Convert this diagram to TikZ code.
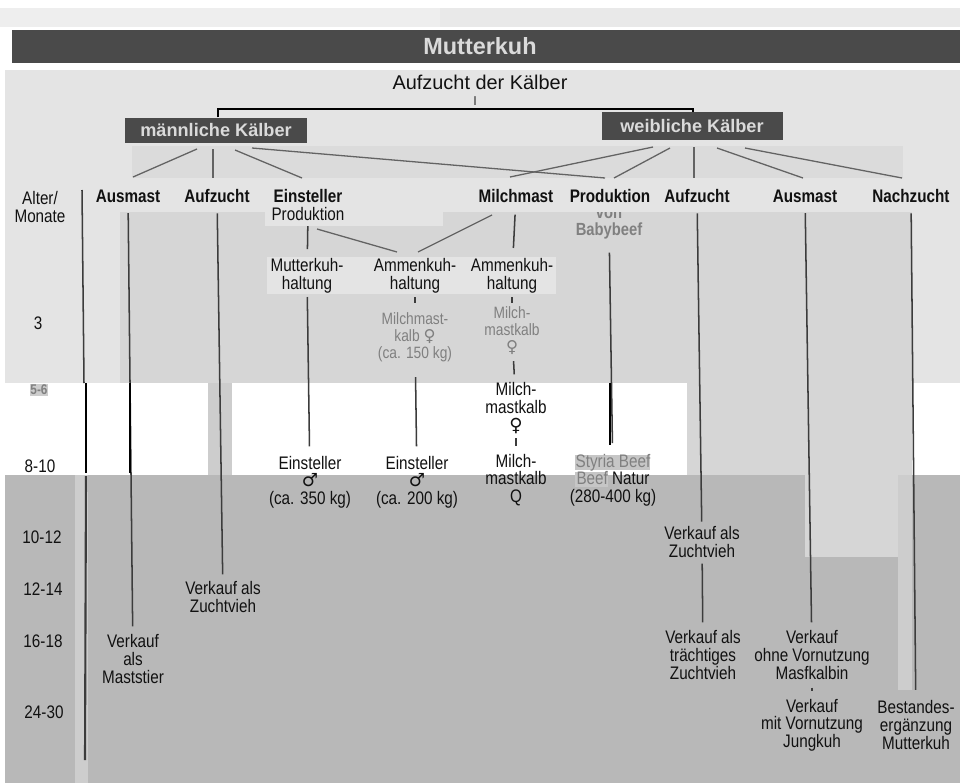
\documentclass[tikz,border=0pt]{standalone}
\usepackage{fontspec}
\setmainfont{Liberation Sans}[FakeStretch=0.84]
\newfontfamily\widefont{Liberation Sans}
\newfontfamily\symfont{DejaVu Sans}
\usepackage{tikz}
\usetikzlibrary{positioning}

\definecolor{ink}{HTML}{111111}
\definecolor{bar}{HTML}{4A4A4A}
\definecolor{boxtxt}{HTML}{DADADA}
\definecolor{paleg}{HTML}{E4E4E4}
\definecolor{colg}{HTML}{D6D6D6}
\definecolor{bandg}{HTML}{DBDBDB}
\definecolor{lowg}{HTML}{B8B8B8}
\definecolor{stripg}{HTML}{CDCDCD}
\definecolor{fade}{HTML}{808080}
\definecolor{lineg}{HTML}{3C3C3C}
\definecolor{topg}{HTML}{EEEEEE}

\newcommand{\male}{{\symfont ♂}}
\newcommand{\female}{{\symfont ♀}}

\tikzset{
	colline/.style={draw=lineg,line width=1.3pt},
	blackseg/.style={draw=black,line width=2.2pt},
	fan/.style={draw=lineg!80,line width=1.1pt},
	kbox/.style={fill=bar,text=boxtxt,font=\widefont\bfseries\fontsize{15.5}{15.5}\selectfont,inner sep=0pt}
}

\begin{document}
\begin{tikzpicture}[x=0.03cm,y=-0.03cm]
			\useasboundingbox (0,0) rectangle (960,783);
			% Flaechen
			\fill[white] (0,0) rectangle (960,783);
			\fill[topg] (0,8) rectangle (960,27);
			\fill[paleg!80] (440,8) rectangle (960,27);
			\fill[bar] (12,30) rectangle (960,63);
			\fill[paleg] (5,70) rectangle (960,383);
			\fill[bandg] (132,146) rectangle (903,178);
			\fill[colg] (120,212) rectangle (912,383);
			\fill[paleg] (267,257) rectangle (556,294);
			\fill[white] (5,383) rectangle (687,475);
			\fill[stripg] (208,383) rectangle (232,475);
			\fill[colg] (687,383) rectangle (912,475);
			\fill[white] (912,383) rectangle (960,475);
			\fill[lowg] (5,475) rectangle (960,783);
			\fill[colg] (805,475) rectangle (900,557);
			\fill[stripg] (898,475) rectangle (912,690);
			\fill[stripg] (75,475) rectangle (88,783);
			\fill[lowg!80] (575,455) rectangle (650,470);
			\fill[lowg!80] (575,472) rectangle (608,487);
			
			\node[text=fade,font=\bfseries\fontsize{15}{14.5}\selectfont,align=center] (vB) at (609,224) {von\\Babybeef};
			\fill[paleg] (560,185) rectangle (660,212);
			\fill[paleg] (265,212) rectangle (443,226);
			
			\node[text=boxtxt,font=\widefont\bfseries\fontsize{20}{20}\selectfont] (mk) at (480,46) {Mutterkuh};
			\node[text=ink,font=\widefont\fontsize{17}{17}\selectfont] (adk) at (480,82) {Aufzucht der Kälber};
			\node[text=ink,font=\rmfamily\fontsize{11}{11}\selectfont,inner sep=0pt] (conn) at (475,101) {I};
			\node[kbox,minimum width=5.46cm,minimum height=0.75cm] (mK) at (216,130) {männliche Kälber};
			\node[kbox,minimum width=5.43cm,minimum height=0.84cm] (wK) at (692,126) {weibliche Kälber};
			
			\begin{scope}[every node/.style={text=ink,inner sep=1pt,align=center,font=\fontsize{15.5}{15}\selectfont}]
				\node (alter) at (40,207) {Alter/\\Monate};
				\node (a3) at (38,323) {3};
				\node[fill=stripg,text=fade,font=\bfseries\fontsize{12}{12}\selectfont,inner sep=0.5pt] (a56) at (39,390) {5-6};
				\node (a810) at (40,466) {8-10};
				\node (a1012) at (42,537) {10-12};
				\node (a1214) at (43,589) {12-14};
				\node (a1618) at (43,641) {16-18};
				\node (a2430) at (44,712) {24-30};
			\end{scope}
			
			\begin{scope}[every node/.style={text=ink,inner sep=1pt,font=\bfseries\fontsize{15.5}{15}\selectfont}]
				\node (hAm) at (128,196) {Ausmast};
				\node (hAz) at (217,196) {Aufzucht};
				\node (hEin) at (308,196) {Einsteller};
				\node (hMi) at (516,196) {Milchmast};
				\node (hPr) at (610,196) {Produktion};
				\node (hAz2) at (697,196) {Aufzucht};
				\node (hAm2) at (805,196) {Ausmast};
				\node (hNa) at (911,196) {Nachzucht};
			\end{scope}
			
			\begin{scope}[every node/.style={text=ink,inner sep=1pt,align=center,font=\fontsize{15.5}{15}\selectfont}]
				\node[below=2pt of hEin] (prod) {Produktion};
				\node (mh) at (307,276) {Mutterkuh-\\haltung};
				\node (ah1) at (415,276) {Ammenkuh-\\haltung};
				\node (ah2) at (512,276) {Ammenkuh-\\haltung};
				\node[text=fade,font=\fontsize{14}{14.5}\selectfont] (mk1) at (415,337) {Milchmast-\\kalb \female\\(ca. 150 kg)};
				\node[text=fade,font=\fontsize{14}{14.5}\selectfont] (mk2) at (512,331) {Milch-\\mastkalb\\\female};
				\node (mk3) at (516,408) {Milch-\\mastkalb\\\female};
				\node (mk4) at (516,480) {Milch-\\mastkalb\\Q};
				\node (ein1) at (310,482) {Einsteller\\\male\\(ca. 350 kg)};
				\node (ein2) at (417,482) {Einsteller\\\male\\(ca. 200 kg)};
				\node (sty) at (613,480) {{\color{fade}Styria Beef}\\{\color{fade}Beef} Natur\\(280-400 kg)};
				\node (vZ1) at (223,597) {Verkauf als\\Zuchtvieh};
				\node (vM) at (133,659) {Verkauf\\als\\Maststier};
				\node (vZ2) at (702,542) {Verkauf als\\Zuchtvieh};
				\node (vT) at (703,655) {Verkauf als\\trächtiges\\Zuchtvieh};
				\node (vO) at (812,655) {Verkauf\\ohne Vornutzung\\Masfkalbin};
				\node (vJ) at (812,725) {Verkauf\\mit Vornutzung\\Jungkuh};
				\node (bE) at (916,725) {Bestandes-\\ergänzung\\Mutterkuh};
			\end{scope}
			
			% Klammer unter dem Titel
			\coordinate (bl) at (218,109);
			\coordinate (br) at (693,109);
			\draw[black,line width=1.1pt] (mK.north -| bl) -- (bl) -- (br) -- (wK.north -| br);
			
			% Faecher von den Kaelbern
			\coordinate (m1) at (197,149); \coordinate (t1) at (133,177);
			\coordinate (m2) at (213,149); \coordinate (t2) at (213,178);
			\coordinate (m3) at (235,150); \coordinate (t3) at (302,178);
			\coordinate (m4) at (252,148); \coordinate (t4) at (605,178);
			\coordinate (w1) at (653,147); \coordinate (t5) at (510,177);
			\coordinate (w2) at (670,148); \coordinate (t6) at (614,178);
			\coordinate (w3) at (694,147); \coordinate (t7) at (694,178);
			\coordinate (w4) at (717,148); \coordinate (t8) at (803,178);
			\coordinate (w5) at (745,148); \coordinate (t9) at (902,178);
			\foreach \a/\b in {m1/t1,m2/t2,m3/t3,m4/t4,w1/t5,w2/t6,w3/t7,w4/t8,w5/t9}
				\draw[fan] (\a) -- (\b);
			
			% Einsteller -> Haltung
			\coordinate (p1) at (317,229); \coordinate (p2) at (397,252);
			\coordinate (p3) at (418,252); \coordinate (p4) at (492,215);
			\draw[fan] (p1) -- (p2);
			\draw[fan] (p3) -- (p4);
			
			% Saeulen
			\begin{scope}[every edge/.style={colline}]
				\path (hAm) edge[shorten <=8pt,shorten >=6pt] (vM);
				\path (hAz) edge[shorten <=8pt,shorten >=5pt] (vZ1);
				\path (prod) edge[shorten <=3pt,shorten >=7pt] (mh);
				\path (mh) edge[shorten <=2pt,shorten >=7pt] (ein1);
				\path (ah1) edge[shorten <=2pt,shorten >=7pt] (mk1);
				\path (mk1) edge[shorten <=12pt,shorten >=7pt] (ein2);
				\path (hMi) edge[shorten <=9pt,shorten >=8pt] (ah2);
				\path (ah2) edge[shorten <=2pt,shorten >=2pt] (mk2);
				\path (mk2) edge[shorten <=4pt,shorten >=6pt] (mk3);
				\path (mk3) edge[shorten <=3pt,shorten >=6pt] (mk4);
				\path (vB) edge[shorten <=8pt,shorten >=8pt] (sty);
				\path (hAz2) edge[shorten <=8pt,shorten >=3pt] (vZ2);
				\path (vZ2) edge[shorten <=4pt,shorten >=6pt] (vT);
				\path (hAm2) edge[shorten <=8pt,shorten >=6pt] (vO);
				\path (vO) edge[shorten <=6pt,shorten >=6pt] (vJ);
				\path (hNa) edge[shorten <=8pt,shorten >=8pt] (bE);
			\end{scope}
			
			% Zeitachse
			\coordinate (ax0) at (82,190);
			\coordinate (ax1) at (84,383);
			\coordinate (ax2) at (86,473);
			\coordinate (ax3) at (85,760);
			\draw[colline] (ax0) -- (ax1);
			\draw[blackseg] (ax1 -| ax2) -- (ax2);
			\draw[colline,line width=1.8pt] (ax2 |- 0,476) -- (ax3);
			
			% schwarze Stuecke im weissen Feld
			\coordinate (s1) at (130,383); \coordinate (s2) at (130,473);
			\coordinate (s3) at (610,383); \coordinate (s4) at (610,445);
			\draw[blackseg,line width=1.6pt] (s1) -- (s2);
			\draw[blackseg,line width=1.6pt] (s3) -- (s4);
\end{tikzpicture}
\end{document}
